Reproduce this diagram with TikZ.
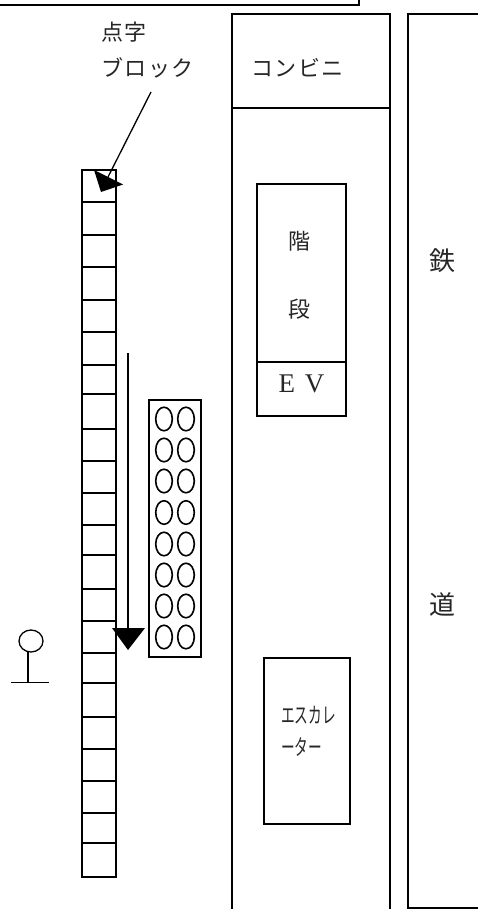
\documentclass[tikz,border=0pt]{standalone}
\usepackage{fontspec}
\newfontfamily\jp{Noto Sans CJK JP}[LetterSpace=7]
\newfontfamily\jpn{Noto Sans CJK JP}
\newfontfamily\evfont{Liberation Serif}
\tikzset{
  line/.style={draw=black,line width=1.3pt},
  heavy/.style={draw=black,line width=2pt},
  head/.style={fill=black,draw=none},
  lbl/.style={inner sep=0pt,font=\jp\fontsize{22}{26}\selectfont,text=black!85},
  big/.style={inner sep=0pt,font=\jpn\fontsize{26}{30}\selectfont,text=black!85},
  esc/.style={inner sep=0pt,anchor=west,xscale=.62,font=\jpn\fontsize{22}{26}\selectfont,text=black!85},
  dot/.style={line,line width=1.6pt}
}
\begin{document}
\begin{tikzpicture}[x=1pt,y=-1pt]
\useasboundingbox (0,0) rectangle (477,909);
% top frame
\draw[heavy] (-5,5) -- (358.5,5) -- (358.5,-5);
% convenience column
\draw[line] (232,915) -- (232,14) -- (390,14) -- (390,915);
\draw[line] (232,108) -- (390,108);
% railway
\draw[line] (490,14) -- (408,14) -- (408,908) -- (490,908);
% stairs / EV
\draw[line] (257,184) rectangle (346,416);
\draw[line] (257,362) -- (346,362);
% escalator
\draw[line,line width=1.6pt] (264,658) rectangle (350,824);
% braille strip
\draw[line] (82,170) rectangle (116,877);
\foreach \y in {202,235,267,300,332,365,394,429,461,493,525,555,589,621,653,683,717,749,781,813,843}
  \draw[line] (82,\y) -- (116,\y);
% arrow to the strip
\coordinate (blockfrom) at (151,92);
\coordinate (blockend) at (108,177);
\draw[line] (blockfrom) -- (blockend);
\fill[head] (94,170) -- (123,184.5) -- (101,192) -- cycle;
% walking arrow
\coordinate (walkfrom) at (128,353);
\coordinate (walkend) at (128,630);
\draw[line] (walkfrom) -- (walkend);
\fill[head] (112,628) -- (145,628) -- (128,650) -- cycle;
% dots panel
\draw[line] (149,400) rectangle (201,657);
\foreach \y in {419,450,481,512.5,544,575,606,637}{
  \draw[dot] (164,\y) ellipse [x radius=8.3,y radius=11.8];
  \draw[dot] (186,\y) ellipse [x radius=8.3,y radius=11.8];
}
% person
\draw[line] (31,641) ellipse [x radius=12,y radius=11];
\draw[line] (28,652) -- (28,683);
\draw[line] (11,682.5) -- (49,682.5);
% text
\node[lbl,anchor=west] (tenji) at (101,32) {点字};
\node[lbl,anchor=west] (block) at (101,68) {ブロック};
\node[lbl,anchor=west] (conv) at (251,68) {コンビニ};
\node[lbl] (kai) at (299,241) {階};
\node[lbl] (dan) at (299,309) {段};
\node[inner sep=0pt,font=\evfont\fontsize{27}{30}\selectfont,text=black!85] (ev) at (301.5,384) {E\hspace{10pt}V};
\node[big] (tetsu) at (442,261) {鉄};
\node[big] (michi) at (442,605) {道};
\node[esc] (esc1) at (281,715) {エスカレ};
\node[esc] (esc2) at (281,747) {ーター};
\end{tikzpicture}
\end{document}
